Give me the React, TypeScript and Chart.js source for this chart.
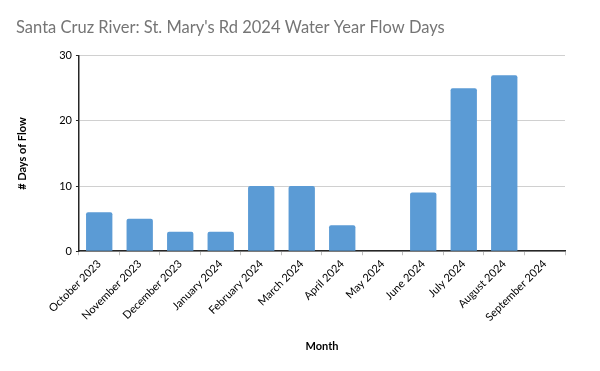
import React, { useEffect, useRef } from "react";
import { Chart, registerables } from "chart.js";

Chart.register(...registerables);

const categories = [
  "October 2023", "November 2023", "December 2023", "January 2024", "February 2024", "March 2024",
  "April 2024", "May 2024", "June 2024", "July 2024", "August 2024", "September 2024",
];
const flowDays = [6, 5, 3, 3, 10, 10, 4, 0, 9, 25, 27, 0];
const yTicks = [0, 10, 20, 30];

const FONT = "Lato, 'Open Sans', sans-serif";

export default function App() {
  const ref = useRef<HTMLCanvasElement | null>(null);
  useEffect(() => {
    document.body.style.margin = "0";
    const ctx = ref.current!;
    const chart = new Chart(ctx, {
      type: "bar",
      data: {
        labels: categories,
        datasets: [
          {
            label: "# Days of Flow",
            data: flowDays,
            backgroundColor: "#5b9bd5",
            borderRadius: 2,
            borderSkipped: "bottom",
            barPercentage: 0.65,
            categoryPercentage: 1,
          },
        ],
      },
      options: {
        animation: false,
        responsive: false,
        maintainAspectRatio: false,
        layout: { padding: { left: 16, right: 35, top: 0, bottom: 18 } },
        plugins: {
          legend: { display: false },
          tooltip: { enabled: false },
          title: {
            display: true,
            text: "Santa Cruz River: St. Mary's Rd 2024 Water Year Flow Days",
            align: "start",
            color: "#757575",
            font: { family: FONT, size: 16.5, weight: "normal" },
            padding: { top: 18, bottom: 18 },
          },
        },
        scales: {
          x: {
            grid: {
              display: true,
              drawOnChartArea: false,
              drawTicks: true,
              tickLength: 4,
              color: "#bfbfbf",
              offset: true,
            },
            border: { display: true, color: "#262626", width: 1.5 },
            ticks: {
              color: "#000",
              font: { family: FONT, size: 11 },
              maxRotation: 45,
              minRotation: 45,
              autoSkip: false,
              padding: 2,
            },
            title: {
              display: true,
              text: "Month",
              color: "#000",
              font: { family: FONT, size: 11, weight: "bold" },
              padding: { top: 14, bottom: 0 },
            },
          },
          y: {
            min: 0,
            max: 30,
            afterBuildTicks: (axis: any) => {
              axis.ticks = yTicks.map((v) => ({ value: v }));
            },
            grid: {
              color: "#d0d0d0",
              drawTicks: true,
              tickLength: 3,
              tickColor: "#262626",
            },
            border: { display: true, color: "#262626", width: 1.5 },
            ticks: {
              color: "#000",
              font: { family: FONT, size: 11 },
              padding: 4,
            },
            title: {
              display: true,
              text: "# Days of Flow",
              color: "#000",
              font: { family: FONT, size: 11, weight: "bold" },
              padding: { top: 0, bottom: 26 },
            },
          },
        },
      },
    });
    return () => chart.destroy();
  }, []);
  return (
    <div style={{ width: 600, height: 371 }}>
      <canvas ref={ref} width={600} height={371} />
    </div>
  );
}
